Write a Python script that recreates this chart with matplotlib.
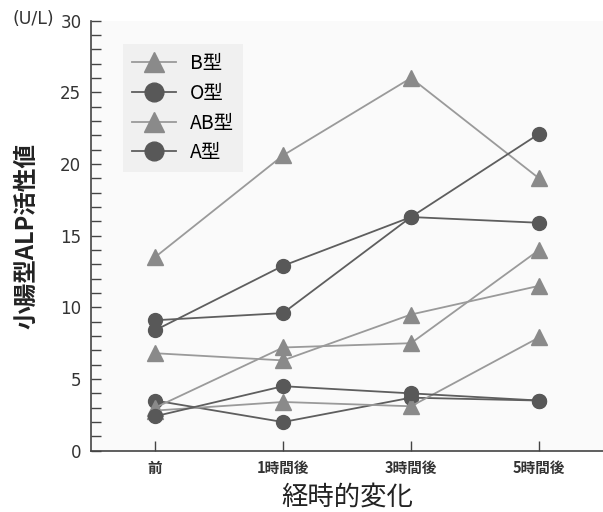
import matplotlib
matplotlib.use("Agg")
import matplotlib.pyplot as plt
from matplotlib.ticker import MultipleLocator

plt.rcParams['font.family'] = ['Noto Sans CJK JP', 'DejaVu Sans']

categories = ["前", "1時間後", "3時間後", "5時間後"]
# triangle series (B型 / AB型), circle series (O型 / A型)
b_type_1 = [13.5, 20.6, 26.0, 19.0]
b_type_2 = [3.0, 7.2, 7.5, 14.0]
ab_type_1 = [6.8, 6.3, 9.5, 11.5]
ab_type_2 = [2.8, 3.4, 3.1, 7.9]
o_type_1 = [9.1, 9.6, 16.3, 22.1]
o_type_2 = [8.4, 12.9, 16.3, 15.9]
a_type_1 = [3.5, 2.0, 3.7, 3.5]
a_type_2 = [2.4, 4.5, 4.0, 3.5]
legend_labels = ["B型", "O型", "AB型", "A型"]

tri_color = "#8a8a8a"
tri_line = "#9a9a9a"
cir_color = "#585858"
cir_line = "#5e5e5e"

fig = plt.figure(figsize=(6.03, 5.12), dpi=100)
ax = fig.add_axes([0.151, 0.1197, 0.849, 0.84])
ax.set_facecolor("#fafafa")

x = list(range(len(categories)))
series = [
    (b_type_1, "^", tri_color, tri_line, "B型"),
    (o_type_1, "o", cir_color, cir_line, "O型"),
    (ab_type_1, "^", tri_color, tri_line, "AB型"),
    (a_type_1, "o", cir_color, cir_line, "A型"),
    (b_type_2, "^", tri_color, tri_line, None),
    (ab_type_2, "^", tri_color, tri_line, None),
    (o_type_2, "o", cir_color, cir_line, None),
    (a_type_2, "o", cir_color, cir_line, None),
]
handles = {}
for vals, mk, mc, lc, lab in series:
    ms = 11 if mk == "^" else 10
    h, = ax.plot(x, vals, marker=mk, color=lc, markerfacecolor=mc,
                 markeredgecolor=mc, markersize=ms, linewidth=1.3,
                 clip_on=False, zorder=3)
    if lab:
        handles[lab] = h

ax.set_xlim(-0.5, 3.5)
ax.set_ylim(0, 30)
ax.set_xticks(x)
ax.set_xticklabels(categories, fontsize=10.5, fontweight="bold", color="#333333")
ax.yaxis.set_major_locator(MultipleLocator(5))
ax.yaxis.set_minor_locator(MultipleLocator(1))
ax.tick_params(axis="y", which="both", direction="in", length=7, width=1,
               color="#444444", labelsize=12, labelcolor="#333333", pad=7)
for lbl in ax.get_yticklabels():
    lbl.set_family("DejaVu Sans")
ax.tick_params(axis="x", which="both", direction="in", length=7, width=1,
               color="#444444", pad=7)
for s in ["top", "right"]:
    ax.spines[s].set_visible(False)
for s in ["left", "bottom"]:
    ax.spines[s].set_color("#444444")
    ax.spines[s].set_linewidth(1.2)

ax.set_ylabel("小腸型ALP活性値", fontsize=17, fontweight="bold", color="#222222", labelpad=16)
ax.set_xlabel("経時的変化", fontsize=19, color="#222222", labelpad=5)
fig.text(0.09, 0.962, "(U/L)", fontsize=12.5, color="#333333", ha="right", va="center",
         family="DejaVu Sans")

leg = ax.legend([handles[k] for k in legend_labels], legend_labels,
                loc="upper left", bbox_to_anchor=(0.062, 0.945), fontsize=14,
                frameon=True, fancybox=False, handlelength=2.3, markerscale=1.35,
                labelspacing=0.45, borderpad=0.45, handletextpad=0.7,
                borderaxespad=0)
leg.get_frame().set_facecolor("#f0f0f0")
leg.get_frame().set_edgecolor("none")
leg.get_frame().set_alpha(1)

fig.savefig("out.png", dpi=100)
